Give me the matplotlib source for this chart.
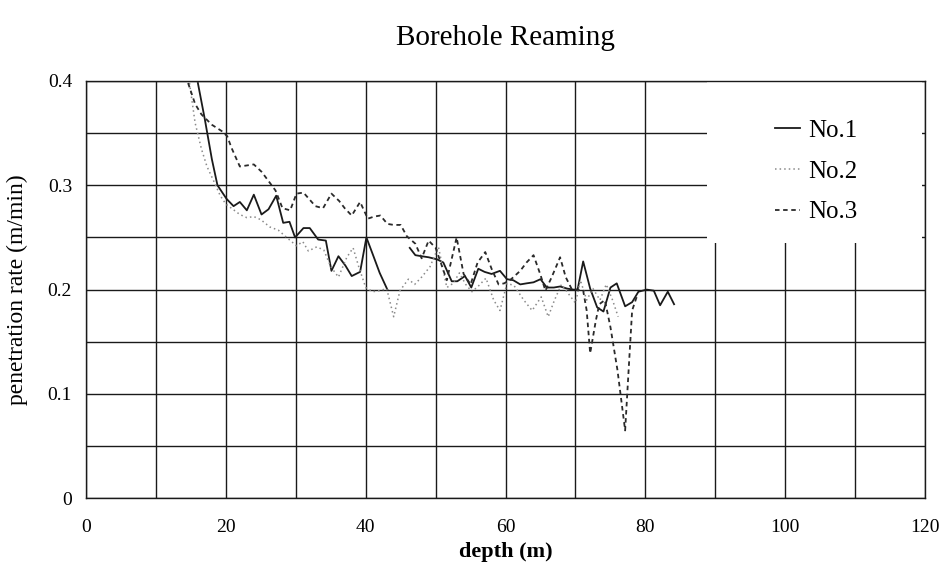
import numpy as np
import matplotlib
matplotlib.use("Agg")
import matplotlib.pyplot as plt
from matplotlib.patches import Rectangle

plt.rcParams['font.family'] = ['Liberation Serif', 'DejaVu Serif']

title = "Borehole Reaming"
xlabel = "depth (m)"
ylabel = "penetration rate (m/min)"
series_names = ["No.1", "No.2", "No.3"]

# No.1 (solid)
depth1 = [16.0, 17.0, 18.0, 18.8, 20.1, 21.1, 22.0, 23.0, 24.0, 25.1, 26.1, 27.2, 28.2, 29.1, 29.9,
          31.1, 32.0, 33.2, 34.3, 35.1, 36.1, 37.1, 38.0, 39.2, 40.1, 41.0, 42.0, 43.1, 44.0,
          46.3, 47.1, 48.0, 49.0, 50.2, 51.1, 52.3, 53.1, 54.2, 55.1, 56.1, 57.0, 58.0, 59.2,
          60.2, 61.1, 62.1, 63.0, 64.0, 65.0, 65.9, 66.9, 67.8, 68.8, 69.7, 70.3, 71.1, 72.1,
          73.1, 74.0, 75.0, 75.9, 77.1, 78.1, 79.0, 80.2, 81.2, 82.1, 83.2, 84.1]
rate1 = [0.398, 0.363, 0.325, 0.300, 0.287, 0.280, 0.284, 0.276, 0.291, 0.272, 0.277, 0.290, 0.264, 0.265, 0.250,
         0.259, 0.259, 0.248, 0.247, 0.218, 0.232, 0.223, 0.213, 0.217, 0.250, 0.234, 0.216, 0.200, np.nan,
         0.240, 0.233, 0.232, 0.231, 0.229, 0.226, 0.208, 0.208, 0.213, 0.202, 0.220, 0.217, 0.215, 0.218,
         0.210, 0.209, 0.205, 0.206, 0.207, 0.210, 0.202, 0.202, 0.203, 0.201, 0.200, 0.200, 0.227, 0.201,
         0.183, 0.179, 0.202, 0.206, 0.184, 0.188, 0.198, 0.200, 0.199, 0.185, 0.198, 0.186]

# No.2 (dotted)
depth2 = [14.8, 15.6, 16.5, 17.3, 18.2, 19.2, 20.0, 21.0, 22.0, 23.0, 24.0, 25.0, 26.3, 27.5, 28.7,
          30.1, 31.0, 31.8, 33.0, 34.0, 35.0, 36.1, 37.3, 38.2, 39.0, 40.0, 41.0, 42.0, 43.0, 44.0,
          44.9, 46.1, 47.0, 48.0, 49.2, 50.4, 51.6, 52.5, 53.4, 54.3, 55.2, 56.2, 57.2, 58.3, 59.2,
          60.2, 61.2, 62.6, 63.8, 65.1, 66.1, 67.0, 68.0, 69.0, 70.0, 70.7, 71.6, 72.5, 73.5, 74.4,
          75.3, 76.1]
rate2 = [0.398, 0.360, 0.335, 0.318, 0.305, 0.290, 0.282, 0.277, 0.272, 0.269, 0.270, 0.267, 0.260, 0.257, 0.250,
         0.242, 0.246, 0.237, 0.241, 0.238, 0.222, 0.212, 0.231, 0.240, 0.222, 0.202, 0.198, 0.199, 0.201, 0.174,
         0.199, 0.210, 0.205, 0.212, 0.222, 0.241, 0.202, 0.206, 0.216, 0.205, 0.198, 0.204, 0.211, 0.190, 0.180,
         0.206, 0.204, 0.190, 0.180, 0.193, 0.174, 0.190, 0.205, 0.196, 0.187, 0.209, 0.190, 0.201, 0.190, 0.205,
         0.190, 0.174]

# No.3 (dashed)
depth3 = [14.6, 15.6, 16.5, 18.0, 19.4, 20.2, 20.8, 22.0, 23.0, 24.0, 25.1, 26.0, 27.1, 28.1, 29.2,
          30.1, 31.1, 32.8, 33.9, 35.1, 36.2, 37.0, 38.0, 39.2, 40.3, 41.2, 42.1, 43.1, 44.0, 45.0,
          45.9, 47.1, 48.0, 49.0, 50.0, 51.6, 53.0, 54.0, 55.0, 56.0, 57.1, 58.0, 59.0, 59.8, 60.8,
          62.1, 63.0, 64.0, 65.0, 65.7, 66.6, 67.8, 68.6, 69.5, 70.4, 71.1, 71.6, 72.1, 72.9, 73.4,
          74.2, 75.0, 76.0, 77.1, 77.6, 78.1, 78.8]
rate3 = [0.398, 0.378, 0.368, 0.358, 0.352, 0.347, 0.336, 0.318, 0.319, 0.320, 0.313, 0.305, 0.295, 0.278, 0.276,
         0.292, 0.293, 0.280, 0.278, 0.292, 0.285, 0.278, 0.271, 0.284, 0.268, 0.270, 0.271, 0.263, 0.262, 0.262,
         0.251, 0.244, 0.230, 0.247, 0.240, 0.209, 0.250, 0.215, 0.205, 0.226, 0.236, 0.220, 0.205, 0.206, 0.210,
         0.218, 0.226, 0.233, 0.214, 0.199, 0.212, 0.231, 0.212, 0.200, 0.200, 0.199, 0.180, 0.139, 0.170, 0.186,
         0.190, 0.164, 0.123, 0.065, 0.123, 0.180, 0.194]

x_ticks = [0, 20, 40, 60, 80, 100, 120]
y_ticks = [0, 0.1, 0.2, 0.3, 0.4]
y_tick_labels = ["0", "0.1", "0.2", "0.3", "0.4"]

fig = plt.figure(figsize=(9.44, 5.70), dpi=100)
ax = fig.add_axes([0.0911, 0.1258, 0.8889, 0.7322])

ax.plot(depth1, rate1, color="#1a1a1a", lw=1.3, linestyle="-", label=series_names[0], zorder=3)
ax.plot(depth2, rate2, color="#8a8a8a", lw=1.1, linestyle=(0, (1, 2)), label=series_names[1], zorder=3)
ax.plot(depth3, rate3, color="#2a2a2a", lw=1.3, linestyle=(0, (2.5, 2)), label=series_names[2], zorder=3)

ax.set_xlim(0, 120)
ax.set_ylim(0, 0.4)
ax.set_xticks(x_ticks)
ax.set_xticklabels([str(t) for t in x_ticks])
ax.set_yticks(y_ticks)
ax.set_yticklabels(y_tick_labels)
ax.set_xticks(np.arange(0, 121, 10), minor=True)
ax.set_yticks(np.arange(0, 0.401, 0.05), minor=True)
ax.grid(True, which="both", color="#1a1a1a", lw=1.0)
ax.set_axisbelow(True)
ax.tick_params(which="both", length=0, labelsize=14)
ax.tick_params(axis="x", pad=15)
ax.tick_params(axis="y", pad=10)
for s in ax.spines.values():
    s.set_color("#1a1a1a")
    s.set_linewidth(1.0)

ax.add_patch(Rectangle((0.740, 0.612), 0.256, 0.386, transform=ax.transAxes,
                       facecolor="white", edgecolor="none", zorder=1.8))

leg = ax.legend(loc="upper left", bbox_to_anchor=(0.809, 0.932), frameon=False,
                fontsize=18, handlelength=1.0, handletextpad=0.35, labelspacing=0.73,
                borderaxespad=0)

ax.set_title(title, fontsize=21, pad=26)
ax.set_xlabel(xlabel, fontsize=16, fontweight="bold", labelpad=4)
ax.set_ylabel(ylabel, fontsize=17, labelpad=14)

fig.savefig("out.png", dpi=100)
